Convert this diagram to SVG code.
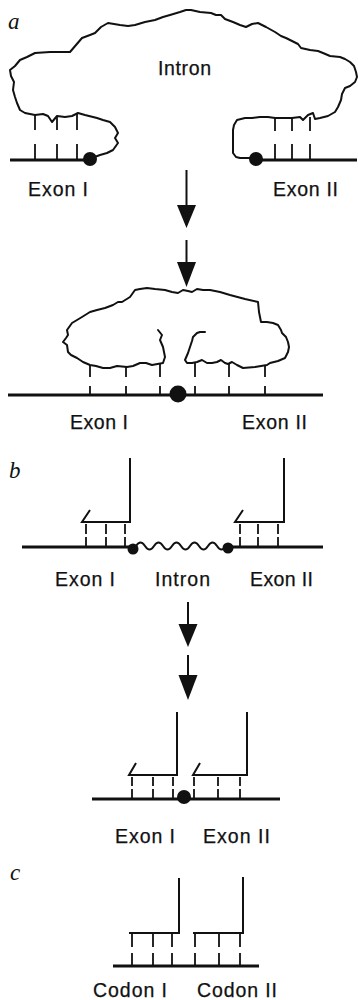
<svg xmlns="http://www.w3.org/2000/svg" width="358" height="1000" viewBox="0 0 358 1000">
  <style>
    .bg { fill: #ffffff; }
    .outline { fill: none; stroke: #111; stroke-width: 2; stroke-linejoin: round; stroke-linecap: round; }
    .base { fill: none; stroke: #111; stroke-width: 3; stroke-linecap: butt; }
    .line { fill: none; stroke: #111; stroke-width: 2; stroke-linecap: butt; }
    .tick { fill: none; stroke: #111; stroke-width: 1.8; }
    .dot { fill: #111; }
    .head { fill: #111; stroke: none; }
    .lbl { font-family: "Liberation Sans", Arial, sans-serif; font-size: 19.5px; fill: #111; stroke: #111; stroke-width: 0.25; }
    .panel { font-family: "Liberation Serif", "Times New Roman", serif; font-style: italic; font-size: 23px; fill: #111; }
  </style>

  <rect class="bg" x="0" y="0" width="358" height="1000"/>

  <!-- Panel a, before splicing: intron loop bridging the two exons -->
  <g id="panel-a-top">
    <text class="panel" x="8" y="29">a</text>
    <path class="outline" d="M 92,158 L 100,155 L 107,153 L 113,150 L 118,143 L 115,138 L 118,133 L 115,127 L 110,122 L 103,120 L 97,118 L 85,115 L 78,113 L 72,116 L 65,117 L 57,116 L 52,122 L 48,116 L 43,114 L 35,115 L 25,113 L 20,110 L 17,103 L 15,97 L 13,90 L 14,82 L 11,76 L 10,70 L 15,66 L 20,60 L 27,57 L 35,53 L 50,52 L 70,52 L 76,45 L 82,38 L 90,35 L 95,33 L 101,27 L 108,23 L 120,25 L 128,26 L 135,25 L 145,22 L 155,20 L 163,17 L 170,15 L 180,12 L 186,10 L 191,10 L 200,12 L 211,13 L 216,15 L 221,15 L 225,19 L 233,22 L 240,25 L 246,27 L 252,24 L 258,23 L 266,27 L 275,32 L 281,36 L 286,38 L 292,41 L 298,44 L 301,48 L 310,50 L 318,51 L 323,53 L 330,56 L 340,57 L 345,59 L 350,62 L 354,66 L 356,72 L 357,77 L 355,82 L 350,86 L 345,88 L 342,94 L 341,100 L 338,107 L 335,112 L 328,116 L 320,118 L 315,119 L 313,113 L 308,115 L 303,120 L 300,117 L 292,118 L 284,118 L 275,118 L 268,117 L 260,117 L 252,118 L 245,118 L 237,120 L 234,125 L 233,130 L 233,140 L 233,153 L 236,157 L 240,158 L 255,158"/>
    <!-- pairing ticks -->
    <path class="tick" d="M 35,115 V 130 M 57,116 V 130 M 77,114 V 130 M 275,118 V 131 M 292,118 V 131 M 310,117 V 131"/>
    <path class="tick" d="M 35,144 V 160 M 57,144 V 160 M 77,144 V 160 M 275,144 V 160 M 292,144 V 160 M 310,144 V 160"/>
    <path class="base" d="M 10,160 H 92 M 255,160 H 357"/>
    <circle class="dot" cx="90" cy="159" r="7"/>
    <circle class="dot" cx="256" cy="159" r="7"/>
    <text class="lbl" x="184.5" y="75" text-anchor="middle" textLength="53">Intron</text>
    <text class="lbl" x="28" y="196" textLength="60">Exon I</text>
    <text class="lbl" x="273" y="196" textLength="65">Exon II</text>
  </g>

  <!-- Panel a, after the exons are brought together -->
  <g id="panel-a-bottom">
    <path class="outline" d="M 158,330 L 162,335 L 160,340 L 163,347 L 165,357 L 163,363 L 152,365 L 146,363 L 140,363 L 133,366 L 127,367 L 117,366 L 110,368 L 103,368 L 96,366 L 90,365 L 83,362 L 77,358 L 71,355 L 68,352 L 67,345 L 63,342 L 66,338 L 68,335 L 67,330 L 72,323 L 77,320 L 82,317 L 90,312 L 97,310 L 105,308 L 113,305 L 118,302 L 122,302 L 130,297 L 135,290 L 140,289 L 147,288 L 155,289 L 165,290 L 172,292 L 178,293 L 183,290 L 188,291 L 192,292 L 197,289 L 203,290 L 210,290 L 220,292 L 230,295 L 245,299 L 258,302 L 259,312 L 261,322 L 267,322 L 273,323 L 278,325 L 281,330 L 282,333 L 286,337 L 288,342 L 289,347 L 288,352 L 285,358 L 278,361 L 270,363 L 267,365 L 255,367 L 243,368 L 237,365 L 232,362 L 228,364 L 225,363 L 221,360 L 217,362 L 212,363 L 207,363 L 202,360 L 197,362 L 192,363 L 187,363 L 185,360 L 188,353 L 190,347 L 192,341 L 193,337 L 197,333 L 200,332 L 205,332"/>
    <path class="tick" d="M 90,365 V 377 M 126,366 V 377 M 160,363 V 377 M 195,362 V 377 M 229,363 V 377 M 265,365 V 377"/>
    <path class="tick" d="M 90,386 V 395 M 126,386 V 395 M 160,386 V 395 M 195,386 V 395 M 229,386 V 395 M 265,386 V 395"/>
    <path class="base" d="M 8,395 H 323"/>
    <circle class="dot" cx="178" cy="394" r="8.5"/>
    <text class="lbl" x="70" y="429" textLength="58">Exon I</text>
    <text class="lbl" x="242" y="429" textLength="65">Exon II</text>
  </g>

  <!-- Panel b, before splicing: wavy intron between exon dots -->
  <g id="panel-b-top">
    <text class="panel" x="9" y="478">b</text>
    <path class="line" d="M 130,458 V 522 H 82 L 90,510"/>
    <path class="line" d="M 284,458 V 522 H 235 L 243,510"/>
    <path class="tick" stroke-dasharray="10 3" d="M 86,547 V 524 M 106,547 V 524 M 125,547 V 524 M 240,547 V 524 M 258,547 V 524 M 278,547 V 524"/>
    <path class="base" d="M 22,547 H 133 M 228,547 H 323"/>
    <path class="outline" stroke-width="1.6" d="M 136,546 q 4.5,-7 9,0 t 9,0 t 9,0 t 9,0 t 9,0 t 9,0 t 9,0 t 9,0 t 9,0 t 9,0"/>
    <circle class="dot" cx="133" cy="549" r="5.5"/>
    <circle class="dot" cx="228" cy="548" r="5.5"/>
    <text class="lbl" x="55" y="586" textLength="60">Exon I</text>
    <text class="lbl" x="155" y="586" textLength="55">Intron</text>
    <text class="lbl" x="250" y="586" textLength="63">Exon II</text>
  </g>

  <!-- Panel b, after splicing -->
  <g id="panel-b-bottom">
    <path class="line" d="M 177,712 V 775 H 129 L 136,763"/>
    <path class="line" d="M 247,712 V 775 H 193 L 200,763"/>
    <path class="tick" stroke-dasharray="9 3" d="M 132,798 V 777 M 153,798 V 777 M 173,798 V 777 M 194,798 V 777 M 218,798 V 777 M 240,798 V 777"/>
    <path class="base" d="M 92,799 H 280"/>
    <circle class="dot" cx="184" cy="797" r="7"/>
    <text class="lbl" x="115" y="843" textLength="60">Exon I</text>
    <text class="lbl" x="203" y="843" textLength="67">Exon II</text>
  </g>

  <!-- Panel c: codons side by side -->
  <g id="panel-c">
    <text class="panel" x="10" y="880">c</text>
    <path class="line" d="M 179,878 V 933 H 129"/>
    <path class="line" d="M 243,877 V 933 H 193"/>
    <path class="tick" stroke-dasharray="13 6" d="M 132,966 V 934 M 153,966 V 934 M 172,966 V 934 M 195,966 V 934 M 219,966 V 934 M 240,966 V 934"/>
    <path class="base" d="M 113,966 H 259"/>
    <text class="lbl" x="93" y="997" textLength="74">Codon I</text>
    <text class="lbl" x="197" y="997" textLength="80">Codon II</text>
  </g>

  <!-- Step arrows -->
  <g id="connectors">
    <path class="line" stroke-width="2.2" d="M 186.5,170 V 207"/>
    <polygon class="head" points="177,205 196,205 186.5,228"/>
    <path class="line" stroke-width="2.2" d="M 186.5,240 V 263"/>
    <polygon class="head" points="177,262 196,262 186.5,287"/>
    <path class="line" stroke-width="2.2" d="M 188,602 V 626"/>
    <polygon class="head" points="178.5,624 197.5,624 188,647"/>
    <path class="line" stroke-width="2.2" d="M 188,655 V 676"/>
    <polygon class="head" points="178.5,675 197.5,675 188,700"/>
  </g>
</svg>
